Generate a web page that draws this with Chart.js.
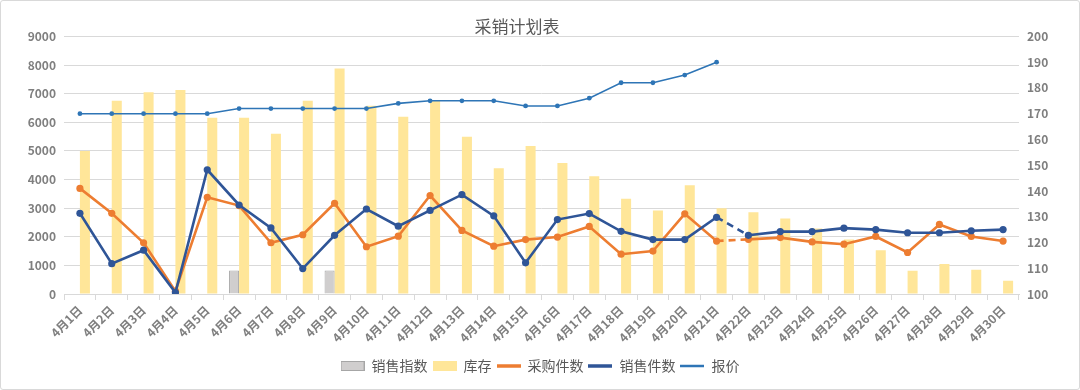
<!DOCTYPE html>
<html>
<head>
<meta charset="utf-8">
<script src="https://cdn.jsdelivr.net/npm/chart.js@4.4.1/dist/chart.umd.min.js"></script>
<style>
html,body{margin:0;padding:0;background:#fff;}
#wrap{width:1080px;height:390px;box-sizing:border-box;border:1px solid #d9d9d9;border-radius:3px;overflow:hidden;}
canvas{display:block;}
</style>
</head>
<body>
<div id="wrap"><canvas id="c" width="1078" height="388"></canvas></div>
<script>
const chartTitle = "采销计划表";
const categories = ["4月1日","4月2日","4月3日","4月4日","4月5日","4月6日","4月7日","4月8日","4月9日","4月10日",
  "4月11日","4月12日","4月13日","4月14日","4月15日","4月16日","4月17日","4月18日","4月19日","4月20日",
  "4月21日","4月22日","4月23日","4月24日","4月25日","4月26日","4月27日","4月28日","4月29日","4月30日"];
const salesIndex = [null,null,null,null,null,820,null,null,820,null,
  null,null,null,null,null,null,null,null,null,null,
  null,null,null,null,null,null,null,null,null,null];
const inventory = [5000,6750,7050,7130,6160,6160,5600,6750,7880,6580,
  6190,6740,5490,4390,5170,4580,4110,3330,2920,3800,
  3000,2860,2640,2290,1900,1530,810,1050,845,460];
const purchaseQty = [3690,2820,1790,100,3380,3090,1790,2070,3170,1650,
  2020,3440,2220,1670,1900,1990,2360,1390,1500,2800,
  1850,1910,1970,1820,1740,2010,1450,2430,2010,1850];
const salesQty = [2820,1060,1530,50,4340,3110,2310,890,2050,2970,
  2370,2920,3470,2730,1090,2600,2810,2190,1900,1900,
  2680,2050,2180,2180,2300,2250,2140,2140,2210,2250];
const price = [170,170,170,170,170,172,172,172,172,172,
  174,175,175,175,173,173,176,182,182,185,
  190,null,null,null,null,null,null,null,null,null];
const leftTicks = [0,9000,1000];
const rightTicks = [100,200,10];
const seriesNames = ["销售指数","库存","采购件数","销售件数","报价"];
const forecastFrom = 20; // index where dashed segment starts

const C_GREY='#D0CECE', C_GREY_B='#A6A6A6', C_YEL='#FFE699', C_ORG='#ED7D31', C_NAVY='#2F5597', C_BLUE='#2E75B6';
const TXT='#595959', TICK='#7F7F7F', GRID='#D9D9D9';

function legendIcon(kind, color, border, lw, r){
  const cv=document.createElement('canvas'); cv.width=24; cv.height=12;
  const g=cv.getContext('2d');
  if(kind==='rect'){ g.fillStyle=color; g.fillRect(0,1,24,10); if(border){g.strokeStyle=border;g.lineWidth=1;g.strokeRect(0.5,1.5,23,9);} }
  else { g.strokeStyle=color; g.lineWidth=lw; g.beginPath(); g.moveTo(0,6); g.lineTo(24,6); g.stroke();
    g.fillStyle=color; g.beginPath(); g.arc(20,6,r,0,Math.PI*2); g.fill(); }
  return cv;
}
const icons=[legendIcon('rect',C_GREY,C_GREY_B),legendIcon('rect',C_YEL,null),
  legendIcon('line',C_ORG,2.5,3.5),legendIcon('line',C_NAVY,2.5,3.5),legendIcon('line',C_BLUE,1.5,2.5)];

const dashSeg = {borderDash: ctx => ctx.p0DataIndex===forecastFrom ? [7,5] : undefined};

const titleShift = {id:'titleShift', afterLayout(chart){ if(chart.titleBlock){ chart.titleBlock.right = chart.width - 46; } }};

Chart.defaults.font.family = "'Noto Sans CJK SC','Liberation Sans',sans-serif";
const plain = v => String(v);

new Chart(document.getElementById('c'), {
  data: {
    labels: categories,
    datasets: [
      {type:'bar', label:seriesNames[0], data:salesIndex, yAxisID:'y', backgroundColor:C_GREY, borderColor:C_GREY_B, borderWidth:1, order:4, categoryPercentage:0.63, barPercentage:1.0, skipNull:false},
      {type:'bar', label:seriesNames[1], data:inventory, yAxisID:'y', backgroundColor:C_YEL, borderWidth:0, order:5, categoryPercentage:0.63, barPercentage:1.0},
      {type:'line', label:seriesNames[2], data:purchaseQty, yAxisID:'y', borderColor:C_ORG, backgroundColor:C_ORG, borderWidth:2.6, pointRadius:3.6, pointBorderWidth:0, pointHoverRadius:3.6, tension:0, order:2, segment:dashSeg},
      {type:'line', label:seriesNames[3], data:salesQty, yAxisID:'y', borderColor:C_NAVY, backgroundColor:C_NAVY, borderWidth:2.6, pointRadius:3.6, pointBorderWidth:0, pointHoverRadius:3.6, tension:0, order:1, segment:dashSeg},
      {type:'line', label:seriesNames[4], data:price, yAxisID:'y2', borderColor:C_BLUE, backgroundColor:C_BLUE, borderWidth:1.6, pointRadius:2.4, pointBorderWidth:0, pointHoverRadius:2.4, tension:0, order:3, spanGaps:false}
    ]
  },
  options: {
    responsive:false, animation:false,
    layout:{padding:{left:0,right:0,top:0,bottom:6}},
    plugins:{
      title:{display:true, text:chartTitle, color:TXT, font:{size:17, weight:'normal'}, padding:{top:15,bottom:0}},
      legend:{position:'bottom', labels:{usePointStyle:true, pointStyleWidth:24, color:TXT, font:{size:14}, padding:5,
        sort:(a,b)=>a.datasetIndex-b.datasetIndex,
        generateLabels(chart){ const base = Chart.defaults.plugins.legend.labels.generateLabels(chart);
          return base.map(it=>Object.assign(it,{pointStyle:icons[it.datasetIndex], lineDash:[]})); }}},
      tooltip:{enabled:false}
    },
    scales:{
      x:{offset:true, grid:{display:true, offset:true, drawOnChartArea:false, drawTicks:true, tickLength:6, color:GRID},
        border:{color:GRID},
        ticks:{color:TICK, font:{size:12, weight:'bold'}, minRotation:45, maxRotation:45, autoSkip:false, padding:3},
        afterFit(s){ s.height = 60; }},
      y:{position:'left', min:leftTicks[0], max:leftTicks[1], ticks:{stepSize:leftTicks[2], color:TICK, font:{size:12, weight:'bold'}, padding:8, callback:plain},
        grid:{color:GRID, drawTicks:false}, border:{display:false},
        afterFit(s){ s.width = 63; }},
      y2:{position:'right', min:rightTicks[0], max:rightTicks[1], ticks:{stepSize:rightTicks[2], color:TICK, font:{size:12, weight:'bold'}, padding:8, callback:plain},
        grid:{drawOnChartArea:false, drawTicks:false}, border:{display:false},
        afterFit(s){ s.width = 60; }}
    }
  },
  plugins:[titleShift]
});
</script>
</body>
</html>
